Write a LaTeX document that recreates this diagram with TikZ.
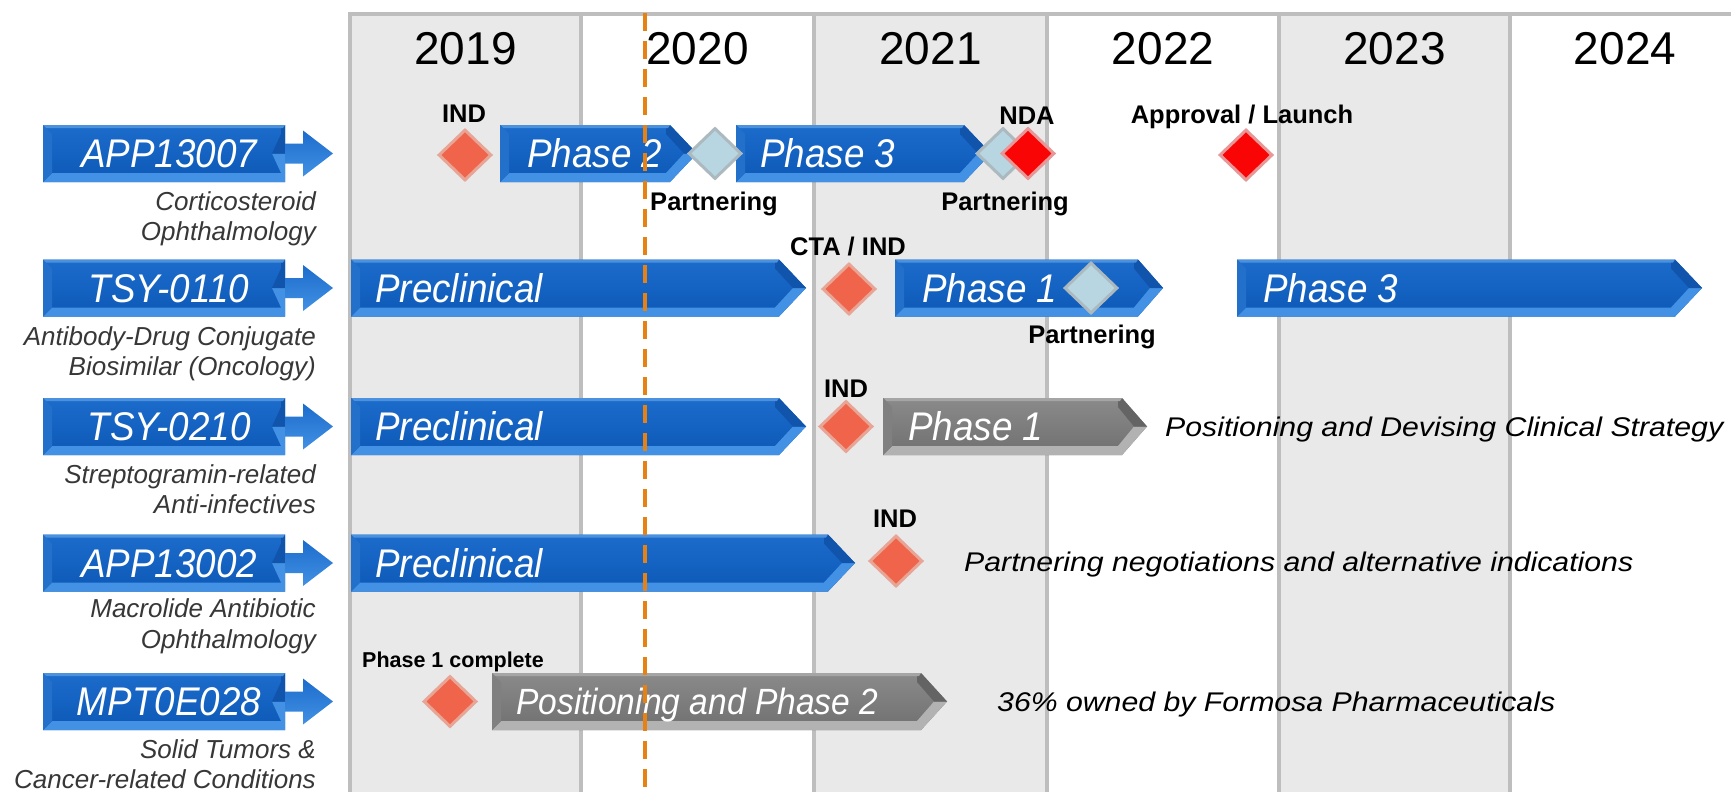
\documentclass[tikz,border=0pt]{standalone}
\usepackage{fontspec}
\setmainfont{Liberation Sans}
\newfontfamily\lsans{Liberation Sans}
\newfontfamily\lsansnarrow{Liberation Sans}[FakeStretch=0.92]
\newfontfamily\lsanswide{Liberation Sans}[FakeStretch=1.12]
\usetikzlibrary{shapes.geometric}

\definecolor{colgray}{RGB}{233,233,233}
\definecolor{gridgray}{RGB}{190,190,190}
\definecolor{nowline}{RGB}{230,130,20}
\definecolor{dorange}{RGB}{240,100,75}
\definecolor{dorangeedge}{RGB}{232,165,150}
\definecolor{dred}{RGB}{250,5,5}
\definecolor{dredge}{RGB}{232,150,150}
\definecolor{dlblue}{RGB}{183,214,226}
\definecolor{dlblueedge}{RGB}{172,186,192}
\definecolor{subgray}{RGB}{55,55,55}
% blue bar scheme
\definecolor{barblueTop}{RGB}{28,108,204}
\definecolor{barblueMid}{RGB}{12,88,182}
\definecolor{barblueLow}{RGB}{66,145,228}
\definecolor{barblueDark}{RGB}{16,84,172}
\definecolor{barblueHi}{RGB}{75,145,222}
\definecolor{barblueLeft}{RGB}{34,112,202}
% gray bar scheme
\definecolor{bargrayTop}{RGB}{138,138,138}
\definecolor{bargrayMid}{RGB}{112,112,112}
\definecolor{bargrayLow}{RGB}{178,178,178}
\definecolor{bargrayDark}{RGB}{100,100,100}
\definecolor{bargrayHi}{RGB}{165,165,165}
\definecolor{bargrayLeft}{RGB}{128,128,128}

\newcommand\pfYear{\lsans\fontsize{46}{50}\selectfont}
\newcommand\pfMs{\lsans\bfseries\fontsize{25.5}{28}\selectfont}
\newcommand\pfMsSmall{\lsans\bfseries\fontsize{21.5}{24}\selectfont}
\newcommand\pfBar{\lsansnarrow\itshape\fontsize{40}{44}\selectfont}
\newcommand\pfBarSmall{\lsansnarrow\itshape\fontsize{36.5}{40}\selectfont}
\newcommand\pfSub{\lsans\itshape\fontsize{26}{30}\selectfont}
\newcommand\pfNote{\lsanswide\itshape\fontsize{27}{30}\selectfont}

% #1 x0, #2 x1 (body end), #3 tip, #4 y centre, #5 colour scheme
\newcommand\pipebar[5]{%
  \pgfmathsetmacro\pbYt{#4-28.5}%
  \pgfmathsetmacro\pbYb{#4+28.5}%
  \shade[top color=#5Top, bottom color=#5Mid]
    (#1,\pbYt) -- (#2,\pbYt) -- (#3,#4) -- (#2,\pbYb) -- (#1,\pbYb) -- cycle;
  \fill[#5Low] (#1,\pbYb) -- (#2,\pbYb) -- (#3,#4) -- ({#3-13},#4)
    -- ({#2-4},{\pbYb-9}) -- ({#1+9},{\pbYb-9}) -- cycle;
  \fill[#5Dark] (#2,\pbYt) -- (#3,#4) -- ({#3-13},#4) -- ({#2-4},{\pbYt+9})
    -- ({#2-4},{\pbYt+3}) -- cycle;
  \fill[#5Hi] (#1,\pbYt) -- (#2,\pbYt) -- ({#2-2},{\pbYt+3}) -- ({#1+3},{\pbYt+3}) -- cycle;
  \fill[#5Left] (#1,\pbYt) -- ({#1+9},{\pbYt+9}) -- ({#1+9},{\pbYb-9}) -- (#1,\pbYb) -- cycle;
}
% label box with small arrow, #1 y centre
\newcommand\labelbox[1]{%
  \pipebar{43}{285}{285}{#1}{barblue}%
  \shade[top color=barblueTop, bottom color=barblueLow]
    (285,{#1-10}) -- (303,{#1-10}) -- (303,{#1-23}) -- (333,#1)
    -- (303,{#1+23}) -- (303,{#1+10}) -- (285,{#1+10}) -- cycle;
}

\tikzset{
  gridline/.style={draw=gridgray, line width=4pt},
  yearlbl/.style={anchor=base, inner sep=0pt, font=\pfYear, text=black},
  mslbl/.style={anchor=base, inner sep=0pt, font=\pfMs, text=black},
  bartext/.style={anchor=base west, inner sep=0pt, font=\pfBar, text=white},
  boxtext/.style={anchor=base, inner sep=0pt, font=\pfBar, text=white},
  sublbl/.style={anchor=base east, inner sep=0pt, font=\pfSub, text=subgray},
  notelbl/.style={anchor=base west, inner sep=0pt, font=\pfNote, text=black},
  dia/.style={shape=diamond, minimum width=53pt, minimum height=51pt, inner sep=0pt, line width=3pt},
  odia/.style={dia, fill=dorange, draw=dorangeedge},
  rdia/.style={dia, fill=dred, draw=dredge},
  bdia/.style={dia, fill=dlblue, draw=dlblueedge},
  nowstyle/.style={draw=nowline, line width=4pt, dash pattern=on 18pt off 10pt},
}

\begin{document}
\begin{tikzpicture}[x=1pt, y=-1pt]
\useasboundingbox (0,0) rectangle (1731,792);
\fill[white] (0,0) rectangle (1731,792);

% year columns
\fill[colgray] (350,14) rectangle (581,792);
\fill[colgray] (814,14) rectangle (1047,792);
\fill[colgray] (1279,14) rectangle (1510,792);
\draw[gridline] (348,14) -- (1731,14);
\foreach \gx in {350,581,814,1047,1279,1510}
  \draw[gridline] (\gx,14) -- (\gx,792);

\node[yearlbl] (y2019) at (465.5,65) {2019};
\node[yearlbl] (y2020) at (697.5,65) {2020};
\node[yearlbl] (y2021) at (930.5,65) {2021};
\node[yearlbl] (y2022) at (1163,65) {2022};
\node[yearlbl] (y2023) at (1394.5,65) {2023};
\node[yearlbl] (y2024) at (1625,65) {2024};

% program label boxes
\labelbox{153.5}
\labelbox{288}
\labelbox{426.5}
\labelbox{563}
\labelbox{701.5}
\node[boxtext] (l1) at (169,167.8) {APP13007};
\node[boxtext] (l2) at (169,302.3) {TSY-0110};
\node[boxtext] (l3) at (169,440.8) {TSY-0210};
\node[boxtext] (l4) at (169,577.3) {APP13002};
\node[boxtext] (l5) at (169,715.8) {MPT0E028};

% subtitles
\node[sublbl] (s1a) at (316,210.5) {Corticosteroid};
\node[sublbl] (s1b) at (316,240.5) {Ophthalmology};
\node[sublbl] (s2a) at (316,345) {Antibody-Drug Conjugate};
\node[sublbl] (s2b) at (316,375) {Biosimilar (Oncology)};
\node[sublbl] (s3a) at (316,483.5) {Streptogramin-related};
\node[sublbl] (s3b) at (316,513.5) {Anti-infectives};
\node[sublbl] (s4a) at (316,617) {Macrolide Antibiotic};
\node[sublbl] (s4b) at (316,648) {Ophthalmology};
\node[sublbl] (s5a) at (316,758.5) {Solid Tumors \&};
\node[sublbl] (s5b) at (316,788.5) {Cancer-related Conditions};

% bars
\pipebar{500}{670}{697}{153.5}{barblue}
\pipebar{736}{964}{991}{153.5}{barblue}
\pipebar{351}{779}{806}{288}{barblue}
\pipebar{895}{1138}{1163}{288}{barblue}
\pipebar{1237}{1675}{1702}{288}{barblue}
\pipebar{351}{779}{806}{426.5}{barblue}
\pipebar{883}{1122}{1147}{426.5}{bargray}
\pipebar{351}{828}{855}{563}{barblue}
\pipebar{492}{921}{947}{701.5}{bargray}

\node[bartext] (b1a) at (527,167.8) {Phase 2};
\node[bartext] (b1b) at (760,167.8) {Phase 3};
\node[bartext] (b2a) at (375,302.3) {Preclinical};
\node[bartext] (b2b) at (922,302.3) {Phase 1};
\node[bartext] (b2c) at (1263,302.3) {Phase 3};
\node[bartext] (b3a) at (375,440.8) {Preclinical};
\node[bartext] (b3b) at (908,440.8) {Phase 1};
\node[bartext] (b4a) at (375,577.3) {Preclinical};
\node[bartext, font=\pfBarSmall] (b5a) at (516,714.5) {Positioning and Phase 2};

% milestones
\node[odia] (d-ind1) at (465,155) {};
\node[bdia] (d-part1) at (715,153.5) {};
\node[bdia] (d-part2) at (1003,153.5) {};
\node[rdia] (d-nda) at (1028,153.5) {};
\node[rdia] (d-appr) at (1246,155) {};
\node[odia] (d-cta) at (849,289) {};
\node[bdia] (d-part3) at (1091,288) {};
\node[odia] (d-ind3) at (846,426.5) {};
\node[odia] (d-ind4) at (896,561) {};
\node[odia] (d-ph1c) at (450,701.5) {};

\node[mslbl] (m-ind1) at (464,122) {IND};
\node[mslbl] (m-nda) at (1027,124) {NDA};
\node[mslbl] (m-appr) at (1242,123) {Approval / Launch};
\node[mslbl] (m-part1) at (714,210) {Partnering};
\node[mslbl] (m-part2) at (1005,210) {Partnering};
\node[mslbl] (m-cta) at (848,255) {CTA / IND};
\node[mslbl] (m-part3) at (1092,343) {Partnering};
\node[mslbl] (m-ind3) at (846,397) {IND};
\node[mslbl] (m-ind4) at (895,527) {IND};
\node[mslbl, font=\pfMsSmall] (m-ph1c) at (453,667.5) {Phase 1 complete};

% notes
\node[notelbl] (n3) at (1165,436.2) {Positioning and Devising Clinical Strategy};
\node[notelbl] (n4) at (964,571.7) {Partnering negotiations and alternative indications};
\node[notelbl] (n5) at (997,711.2) {36\% owned by Formosa Pharmaceuticals};

% today line
\coordinate (now-top) at (645,13);
\coordinate (now-bot) at (645,792);
\draw[nowstyle] (now-top) -- (now-bot);
\end{tikzpicture}
\end{document}
